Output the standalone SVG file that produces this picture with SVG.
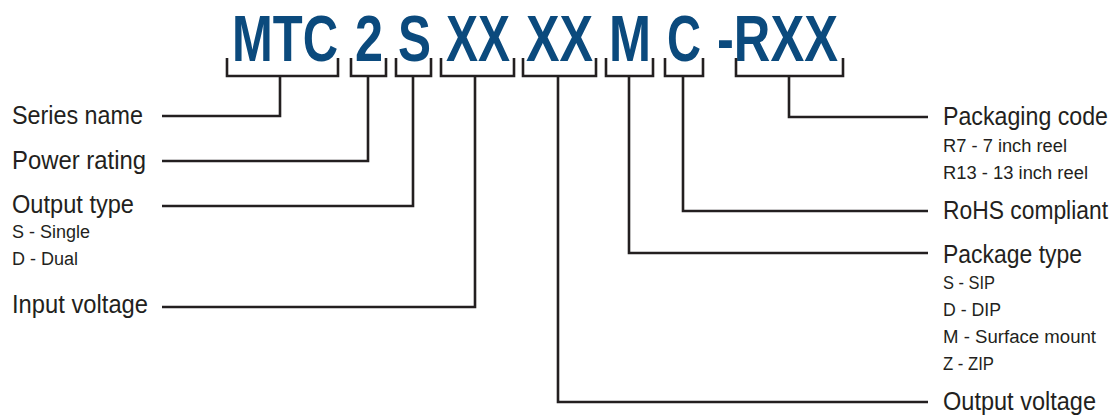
<svg xmlns="http://www.w3.org/2000/svg" width="1117" height="415" viewBox="0 0 1117 415">
<style>
.code{font-family:"Liberation Sans",Arial,sans-serif;font-weight:bold;font-size:64px;fill:#0b4a7d}
.lbl{font-family:"Liberation Sans",Arial,sans-serif;font-size:26px;fill:#231f20}
.sub{font-family:"Liberation Sans",Arial,sans-serif;font-size:18px;fill:#231f20}
.ln{fill:none;stroke:#231f20;stroke-width:2.6;stroke-linejoin:miter;stroke-linecap:butt}
</style>
<rect width="1117" height="415" fill="#fff"/>
<g id="code">
<text class="code" x="232" y="61" textLength="106" lengthAdjust="spacingAndGlyphs">MTC</text>
<text class="code" x="355" y="61" textLength="28" lengthAdjust="spacingAndGlyphs">2</text>
<text class="code" x="398" y="61" textLength="33" lengthAdjust="spacingAndGlyphs">S</text>
<text class="code" x="446" y="61" textLength="64" lengthAdjust="spacingAndGlyphs">XX</text>
<text class="code" x="526" y="61" textLength="67" lengthAdjust="spacingAndGlyphs">XX</text>
<text class="code" x="609" y="61" textLength="42" lengthAdjust="spacingAndGlyphs">M</text>
<text class="code" x="667" y="61" textLength="34" lengthAdjust="spacingAndGlyphs">C</text>
<text class="code" x="717" y="61" textLength="121" lengthAdjust="spacingAndGlyphs">-RXX</text>
</g>
<g id="connectors">
<path class="ln" d="M227,58V76H338V58M280,76V116H162"/>
<path class="ln" d="M351,58V76H386V58M368,76V161H162"/>
<path class="ln" d="M396,58V76H431V58M413,76V206H162"/>
<path class="ln" d="M441,58V76H514V58M475,76V307H162"/>
<path class="ln" d="M523,58V76H596V58M558,76V402H928"/>
<path class="ln" d="M606,58V76H653V58M629,76V253H928"/>
<path class="ln" d="M665,58V76H703V58M683,76V211H928"/>
<path class="ln" d="M736,58V76H843V58M789,76V117H928"/>
</g>
<g id="series-name"><text class="lbl" x="12" y="124" textLength="131" lengthAdjust="spacingAndGlyphs">Series name</text></g>
<g id="power-rating"><text class="lbl" x="12" y="169" textLength="134" lengthAdjust="spacingAndGlyphs">Power rating</text></g>
<g id="output-type">
<text class="lbl" x="12" y="213" textLength="122" lengthAdjust="spacingAndGlyphs">Output type</text>
<text class="sub" x="12" y="238" textLength="78" lengthAdjust="spacingAndGlyphs">S - Single</text>
<text class="sub" x="12" y="265" textLength="66" lengthAdjust="spacingAndGlyphs">D - Dual</text>
</g>
<g id="input-voltage"><text class="lbl" x="12" y="313" textLength="136" lengthAdjust="spacingAndGlyphs">Input voltage</text></g>
<g id="packaging-code">
<text class="lbl" x="943" y="125" textLength="165" lengthAdjust="spacingAndGlyphs">Packaging code</text>
<text class="sub" x="943" y="152" textLength="124" lengthAdjust="spacingAndGlyphs">R7 - 7 inch reel</text>
<text class="sub" x="943" y="179" textLength="145" lengthAdjust="spacingAndGlyphs">R13 - 13 inch reel</text>
</g>
<g id="rohs"><text class="lbl" x="943" y="219" textLength="165" lengthAdjust="spacingAndGlyphs">RoHS compliant</text></g>
<g id="package-type">
<text class="lbl" x="943" y="263" textLength="139" lengthAdjust="spacingAndGlyphs">Package type</text>
<text class="sub" x="943" y="289" textLength="52" lengthAdjust="spacingAndGlyphs">S - SIP</text>
<text class="sub" x="943" y="316" textLength="58" lengthAdjust="spacingAndGlyphs">D - DIP</text>
<text class="sub" x="943" y="343" textLength="153" lengthAdjust="spacingAndGlyphs">M - Surface mount</text>
<text class="sub" x="943" y="370" textLength="51" lengthAdjust="spacingAndGlyphs">Z - ZIP</text>
</g>
<g id="output-voltage"><text class="lbl" x="943" y="410" textLength="153" lengthAdjust="spacingAndGlyphs">Output voltage</text></g>
</svg>
